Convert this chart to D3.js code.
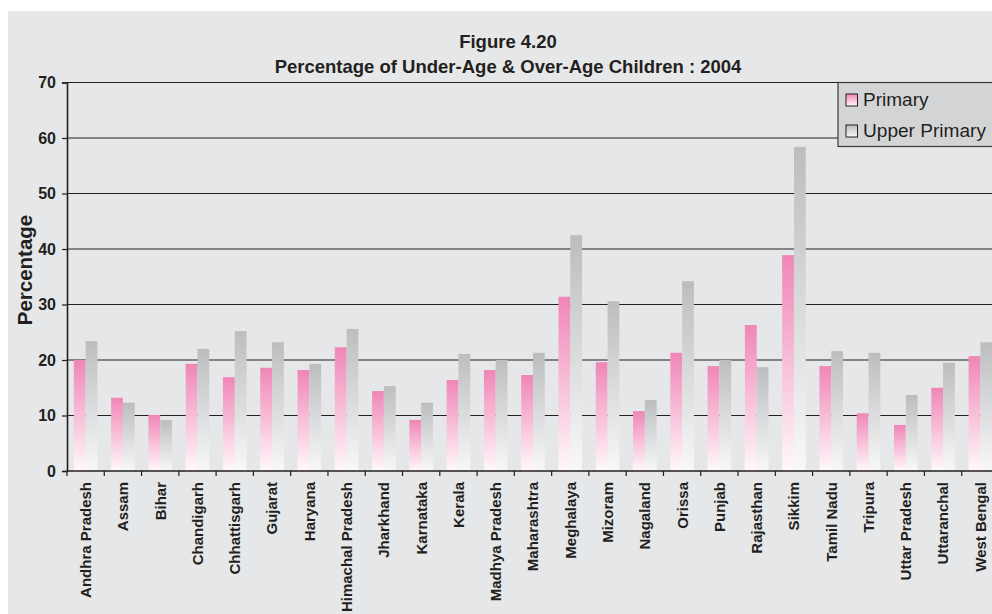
<!DOCTYPE html>
<html>
<head>
<meta charset="utf-8">
<script src="https://cdn.jsdelivr.net/npm/d3@7"></script>
<style>
  html, body { margin: 0; padding: 0; background: #ffffff; }
  svg { display: block; font-family: "Liberation Sans", Arial, Helvetica, sans-serif; }
</style>
</head>
<body>
<svg id="chart" width="992" height="614"></svg>
<script>
const states = ["Andhra Pradesh","Assam","Bihar","Chandigarh","Chhattisgarh","Gujarat","Haryana",
  "Himachal Pradesh","Jharkhand","Karnataka","Kerala","Madhya Pradesh","Maharashtra","Meghalaya",
  "Mizoram","Nagaland","Orissa","Punjab","Rajasthan","Sikkim","Tamil Nadu","Tripura",
  "Uttar Pradesh","Uttaranchal","West Bengal"];
const primary = [20.0,13.2,10.1,19.3,16.9,18.6,18.2,22.3,14.4,9.2,16.4,18.2,17.3,31.4,
  19.6,10.8,21.3,18.9,26.3,38.9,18.9,10.4,8.3,15.0,20.7];
const upperPrimary = [23.4,12.3,9.2,22.0,25.2,23.2,19.3,25.6,15.3,12.3,21.1,20.0,21.3,42.5,
  30.6,12.8,34.2,20.0,18.7,58.4,21.6,21.3,13.7,19.5,23.2];
const seriesNames = ["Primary","Upper Primary"];
const yTicks = [0,10,20,30,40,50,60,70];
const titleLines = ["Figure 4.20","Percentage of Under-Age & Over-Age Children : 2004"];
const yLabel = "Percentage";

(function draw() {
const ink = "#231f20";
const svg = d3.select("#chart");

svg.append("rect").attr("x",8).attr("y",11).attr("width",992-8).attr("height",614-11).attr("fill","#e6e7e8");

const defs = svg.append("defs");
const gradSpecs = [
  {id:"gPrimary", top:"#f086b6", bottom:"#fff8fb"},
  {id:"gUpper", top:"#bbbdbf", bottom:"#f8f8f8"}
];
gradSpecs.forEach(g => {
  const lg = defs.append("linearGradient").attr("id",g.id).attr("x1",0).attr("y1",0).attr("x2",0).attr("y2",1);
  lg.append("stop").attr("offset","0%").attr("stop-color",g.top);
  lg.append("stop").attr("offset","100%").attr("stop-color",g.bottom);
});
const fills = ["url(#gPrimary)","url(#gUpper)"];

const mLeft = 67, mRight = 999, mTop = 82.5, mBottom = 471;

const x0 = d3.scaleBand().domain(states).range([mLeft, mRight]).padding(0);
const x1 = d3.scaleBand().domain(seriesNames).range([0, x0.bandwidth()]).paddingInner(0).paddingOuter(0.58);
const y = d3.scaleLinear().domain([0,70]).range([mBottom, mTop]);

svg.append("g").selectAll("line").data(yTicks.filter(d => d > 0)).join("line")
  .attr("x1", mLeft).attr("x2", 992)
  .attr("y1", d => y(d)).attr("y2", d => y(d))
  .attr("stroke", ink).attr("stroke-width", 1.1);

const data = states.map((s,i) => ({state:s, values:[primary[i], upperPrimary[i]]}));
const groups = svg.append("g").selectAll("g").data(data).join("g")
  .attr("transform", d => `translate(${x0(d.state)},0)`);
groups.selectAll("rect").data(d => d.values.map((v,k) => ({v, k}))).join("rect")
  .attr("x", d => x1(seriesNames[d.k]))
  .attr("width", x1.bandwidth())
  .attr("y", d => y(d.v))
  .attr("height", d => y(0) - y(d.v))
  .attr("fill", d => fills[d.k]);

const yAxis = svg.append("g").attr("transform", `translate(${mLeft},0)`)
  .call(d3.axisLeft(y).tickValues(yTicks).tickSize(5).tickPadding(6).tickFormat(d3.format("d")));
yAxis.select(".domain").attr("stroke", ink).attr("stroke-width", 1.6);
yAxis.selectAll(".tick line").attr("stroke", ink).attr("stroke-width", 1.2);
yAxis.selectAll(".tick text").attr("fill", ink).attr("font-size", 16).attr("font-weight", "bold")
  .attr("font-family", "Liberation Sans, Arial, sans-serif");

const xAxis = svg.append("g").attr("transform", `translate(0,${mBottom})`)
  .call(d3.axisBottom(x0).tickSize(0).tickPadding(0));
xAxis.select(".domain").remove();
xAxis.append("line").attr("x1", mLeft).attr("x2", 992).attr("y1", 0).attr("y2", 0)
  .attr("stroke", ink).attr("stroke-width", 1.6);
xAxis.selectAll(".tickmark").data(states.concat(["_end"])).join("line")
  .attr("class","tickmark")
  .attr("x1", (d,i) => mLeft + i * x0.step()).attr("x2", (d,i) => mLeft + i * x0.step())
  .attr("y1", 0).attr("y2", 5).attr("stroke", ink).attr("stroke-width", 1.2);
xAxis.selectAll(".tick line").remove();
xAxis.selectAll(".tick text")
  .attr("fill", ink).attr("font-size", 15).attr("font-weight", "bold")
  .attr("font-family", "Liberation Sans, Arial, sans-serif")
  .attr("transform", "translate(0,11) rotate(-90)")
  .attr("text-anchor", "end").attr("x", 0).attr("y", 0).attr("dy", "0.36em");

svg.append("text").attr("x", 508).attr("y", 48).attr("text-anchor","middle")
  .attr("font-size", 18.5).attr("font-weight","bold").attr("fill", ink).text(titleLines[0]);
svg.append("text").attr("x", 508).attr("y", 72.5).attr("text-anchor","middle")
  .attr("font-size", 18.5).attr("font-weight","bold").attr("fill", ink).text(titleLines[1]);

svg.append("text").attr("transform", "translate(32,270) rotate(-90)").attr("text-anchor","middle")
  .attr("font-size", 20.5).attr("font-weight","bold").attr("fill", ink).text(yLabel);

const lg = svg.append("g");
lg.append("rect").attr("x", 838).attr("y", 82.5).attr("width", 200).attr("height", 64)
  .attr("fill", "#d3d4d6").attr("stroke", "#3a3a3a").attr("stroke-width", 1.2);
seriesNames.forEach((name, k) => {
  const yy = 94 + k * 31;
  lg.append("rect").attr("x", 846).attr("y", yy).attr("width", 11.5).attr("height", 12)
    .attr("fill", fills[k]).attr("stroke", ink).attr("stroke-width", 1);
  lg.append("text").attr("x", 863).attr("y", yy + 12.3)
    .attr("font-size", 17.5).attr("fill", ink)
    .attr("textLength", k === 0 ? 65.5 : 123).attr("lengthAdjust", "spacingAndGlyphs")
    .text(name);
});
})();
</script>
</body>
</html>
